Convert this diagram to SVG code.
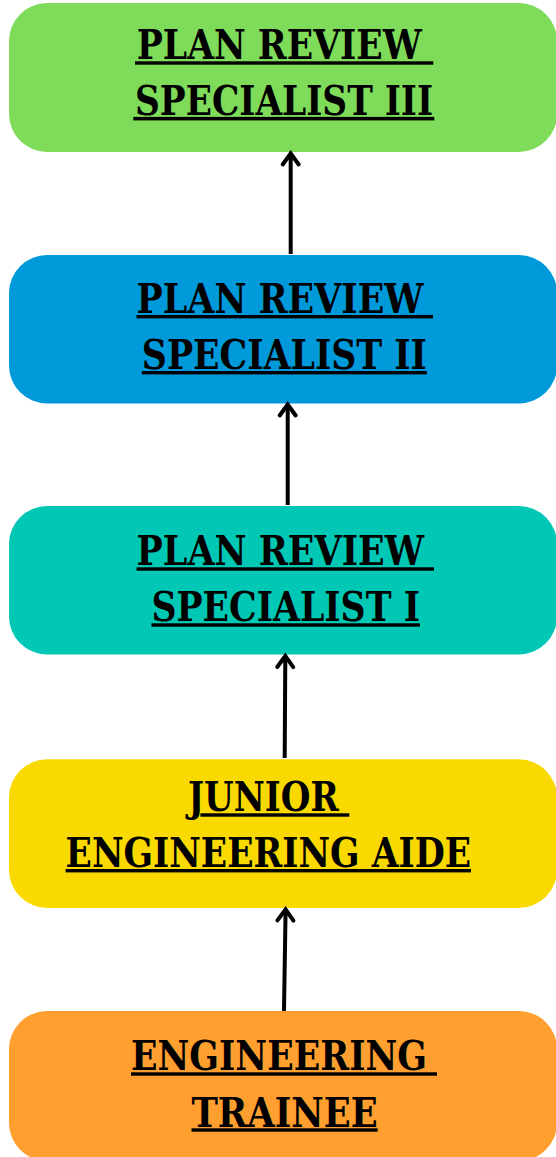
<svg xmlns="http://www.w3.org/2000/svg" width="556" height="1157" viewBox="0 0 556 1157">
<style>
.box{stroke:none}
.t{font-family:"DejaVu Serif Condensed","DejaVu Serif",serif;font-stretch:condensed;font-weight:bold;font-size:41px;fill:#000}
.ul{fill:#000}
.conn line{stroke:#000;stroke-width:4;fill:none}
</style>
<defs>
<marker id="ah" markerUnits="userSpaceOnUse" markerWidth="24" markerHeight="24" refX="0" refY="0" viewBox="-12 -4 24 24" orient="auto-start-reverse" overflow="visible">
<path d="M-8,11 L0,0 L8,11" fill="none" stroke="#000" stroke-width="4" stroke-linejoin="miter" stroke-linecap="round" transform="rotate(90)"/>
</marker>
</defs>
<rect width="556" height="1157" fill="#fff"/>
<g id="n1">
<rect class="box" x="9" y="3" width="548" height="149" rx="38" fill="#7FDB5A"/>
<text class="t" x="136.7" y="59.3" textLength="285" lengthAdjust="spacingAndGlyphs">PLAN REVIEW</text>
<rect class="ul" x="135" y="61.3" width="298.3" height="3.4"/>
<text class="t" x="135" y="115" textLength="298" lengthAdjust="spacingAndGlyphs">SPECIALIST III</text>
<rect class="ul" x="133.3" y="116.9" width="301" height="3.5"/>
</g>
<g id="n2">
<rect class="box" x="9" y="255" width="548" height="148.5" rx="38" fill="#0099DA"/>
<text class="t" x="136.5" y="313.3" textLength="287" lengthAdjust="spacingAndGlyphs">PLAN REVIEW</text>
<rect class="ul" x="136.5" y="315" width="296.5" height="3.4"/>
<text class="t" x="141.8" y="369" textLength="285" lengthAdjust="spacingAndGlyphs">SPECIALIST II</text>
<rect class="ul" x="141.8" y="371" width="285" height="3.4"/>
</g>
<g id="n3">
<rect class="box" x="9" y="506" width="548" height="148.5" rx="38" fill="#00C8B5"/>
<text class="t" x="136.5" y="565" textLength="287.5" lengthAdjust="spacingAndGlyphs">PLAN REVIEW</text>
<rect class="ul" x="136.5" y="567.3" width="297.5" height="3.4"/>
<text class="t" x="151.4" y="620.7" textLength="268.5" lengthAdjust="spacingAndGlyphs">SPECIALIST I</text>
<rect class="ul" x="151.4" y="623.3" width="268.5" height="3.4"/>
</g>
<g id="n4">
<rect class="box" x="9" y="759.3" width="548" height="148.7" rx="38" fill="#FAD900"/>
<text class="t" x="188" y="811" textLength="150.7" lengthAdjust="spacingAndGlyphs">JUNIOR</text>
<rect class="ul" x="200.4" y="813.3" width="148.9" height="3.4"/>
<text class="t" x="65.6" y="866.7" textLength="405.4" lengthAdjust="spacingAndGlyphs">ENGINEERING AIDE</text>
<rect class="ul" x="65.6" y="869" width="405.4" height="3.4"/>
</g>
<g id="n5">
<rect class="box" x="9" y="1011" width="548" height="150" rx="38" fill="#FF9F30"/>
<text class="t" x="131" y="1070" textLength="296" lengthAdjust="spacingAndGlyphs">ENGINEERING</text>
<rect class="ul" x="131" y="1072.3" width="306" height="3.4"/>
<text class="t" x="191.5" y="1126.7" textLength="186.2" lengthAdjust="spacingAndGlyphs">TRAINEE</text>
<rect class="ul" x="191.5" y="1128.3" width="186.2" height="3.4"/>
</g>
<g id="connectors" class="conn">
<line x1="290.7" y1="254" x2="290.7" y2="153.5" marker-end="url(#ah)"/>
<line x1="287.7" y1="505" x2="287.7" y2="404.5" marker-end="url(#ah)"/>
<line x1="284.7" y1="758" x2="285.3" y2="656" marker-end="url(#ah)"/>
<line x1="284" y1="1011" x2="285.6" y2="909.5" marker-end="url(#ah)"/>
</g>
</svg>
